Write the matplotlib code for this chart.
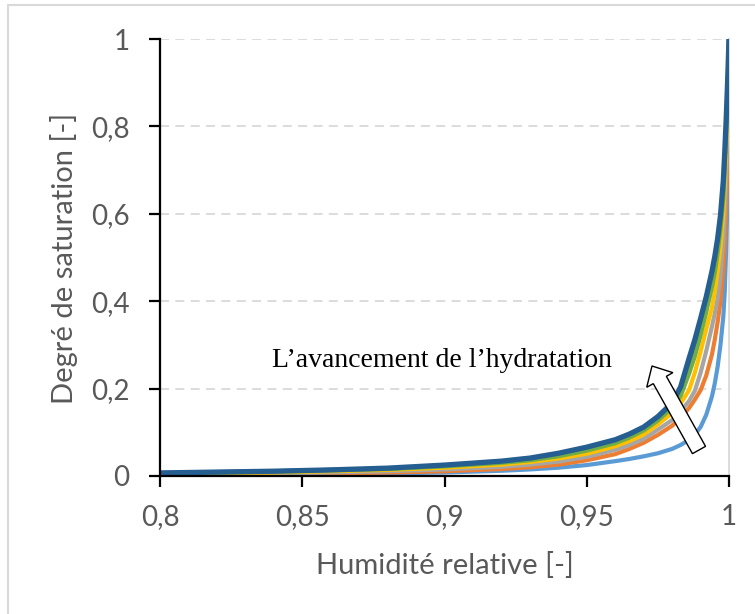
import matplotlib
matplotlib.use("Agg")
import matplotlib.pyplot as plt
from matplotlib.patches import FancyArrow, Rectangle
from matplotlib.transforms import Affine2D

# Humidité relative (abscisse commune)
hr = [0.80, 0.82, 0.84, 0.86, 0.88, 0.90, 0.92, 0.93, 0.94, 0.95, 0.96, 0.965, 0.97, 0.975,
      0.98, 0.983, 0.986, 0.988, 0.990, 0.992, 0.994, 0.995, 0.996, 0.997, 0.998, 0.9985,
      0.999, 0.9995, 1.0]

# Degré de saturation, du moins hydraté au plus hydraté
s_bleu_clair = [0.002, 0.002, 0.003, 0.004, 0.006, 0.008, 0.012, 0.015, 0.019, 0.025, 0.034,
                0.039, 0.045, 0.052, 0.062, 0.071, 0.083, 0.095, 0.112, 0.140, 0.182, 0.212,
                0.250, 0.300, 0.365, 0.420, 0.520, 0.650, 1.0]
s_orange = [0.003, 0.004, 0.005, 0.006, 0.008, 0.011, 0.016, 0.020, 0.026, 0.036, 0.050,
            0.062, 0.076, 0.094, 0.115, 0.133, 0.156, 0.175, 0.196, 0.230, 0.278, 0.312,
            0.352, 0.400, 0.470, 0.528, 0.610, 0.750, 1.0]
s_gris = [0.004, 0.005, 0.006, 0.008, 0.011, 0.015, 0.021, 0.026, 0.033, 0.044, 0.060,
          0.071, 0.085, 0.106, 0.128, 0.148, 0.172, 0.195, 0.236, 0.286, 0.342, 0.372,
          0.405, 0.458, 0.540, 0.600, 0.690, 0.820, 1.0]
s_jaune = [0.005, 0.006, 0.008, 0.011, 0.014, 0.019, 0.026, 0.032, 0.040, 0.051, 0.068,
           0.080, 0.095, 0.118, 0.144, 0.166, 0.197, 0.237, 0.284, 0.336, 0.385, 0.420,
           0.468, 0.525, 0.600, 0.665, 0.750, 0.850, 1.0]
s_bleu = [0.007, 0.009, 0.011, 0.014, 0.017, 0.024, 0.032, 0.038, 0.048, 0.062, 0.078,
          0.091, 0.107, 0.131, 0.161, 0.193, 0.252, 0.293, 0.341, 0.392, 0.450, 0.483,
          0.526, 0.580, 0.655, 0.725, 0.800, 0.890, 1.0]
s_vert = [0.006, 0.008, 0.010, 0.013, 0.016, 0.022, 0.030, 0.036, 0.045, 0.058, 0.075,
          0.088, 0.104, 0.127, 0.156, 0.183, 0.235, 0.274, 0.322, 0.375, 0.432, 0.465,
          0.510, 0.563, 0.635, 0.710, 0.790, 0.880, 1.0]
s_bleu_fonce = [0.007, 0.009, 0.011, 0.014, 0.018, 0.025, 0.034, 0.041, 0.052, 0.066, 0.083,
                0.096, 0.112, 0.136, 0.167, 0.204, 0.270, 0.312, 0.360, 0.410, 0.468, 0.502,
                0.543, 0.596, 0.675, 0.740, 0.815, 0.900, 1.0]

courbes = [s_bleu_clair, s_orange, s_gris, s_jaune, s_bleu, s_vert, s_bleu_fonce]
couleurs = ['#5B9BD5', '#ED7D31', '#A5A5A5', '#FFC000', '#4472C4', '#70AD47', '#255E91']
epaisseurs = [3.0, 3.0, 3.0, 3.0, 3.0, 3.0, 3.8]

x_ticks = [0.8, 0.85, 0.9, 0.95, 1.0]
x_labels = ['0,8', '0,85', '0,9', '0,95', '1']
y_ticks = [0, 0.2, 0.4, 0.6, 0.8, 1.0]
y_labels = ['0', '0,2', '0,4', '0,6', '0,8', '1']

W, H = 755, 614
gris_txt = '#595959'

fig = plt.figure(figsize=(W / 100, H / 100), dpi=100)
ax = fig.add_axes([160 / W, 1 - 476 / H, (729 - 160) / W, (476 - 39) / H])
pix = Affine2D().scale(1 / W, 1 / H) + fig.transFigure

for y in y_ticks[1:]:
    ax.axhline(y, color='#D9D9D9', lw=1.3, ls=(0, (5, 3.5)), zorder=1)

for s, c, lw in zip(courbes, couleurs, epaisseurs):
    ax.plot(hr, s, color=c, lw=lw, solid_capstyle='round', solid_joinstyle='round', zorder=3)

ax.set_xlim(0.8, 1.0)
ax.set_ylim(0, 1.0)
ax.set_xticks(x_ticks)
ax.set_xticklabels(x_labels)
ax.set_yticks(y_ticks)
ax.set_yticklabels(y_labels)

for sp in ['left', 'bottom']:
    ax.spines[sp].set_color('black')
    ax.spines[sp].set_linewidth(1.6)
    ax.spines[sp].set_zorder(4)
ax.spines['top'].set_visible(False)
ax.spines['right'].set_color('#D9D9D9')
ax.spines['right'].set_linewidth(1.3)

ax.tick_params(axis='x', direction='out', length=8, width=1.6, color='black',
               labelsize=20, labelcolor=gris_txt, pad=12)
ax.tick_params(axis='y', direction='out', length=8, width=1.6, color='black',
               labelsize=20, labelcolor=gris_txt, pad=14)
for lab in ax.get_xticklabels() + ax.get_yticklabels():
    lab.set_fontfamily('Lato')

# titres des axes placés en pixels
fig.text(445, H - 565, 'Humidité relative [-]', fontsize=21, color=gris_txt, family='Lato',
         ha='center', va='center', transform=pix)
fig.text(64, H - 258, 'Degré de saturation [-]', fontsize=21, color=gris_txt, family='Lato',
         ha='center', va='center', rotation=90, transform=pix)

ax.text(442, H - 367, 'L\u2019avancement de l\u2019hydratation', fontsize=20,
        family='Liberation Serif', color='black', ha='center', va='baseline',
        transform=pix, zorder=5)

fleche = FancyArrow(699, H - 450, 652 - 699, (H - 366) - (H - 450), width=15,
                    head_width=30, head_length=16, length_includes_head=True,
                    fc='white', ec='black', lw=1.0, transform=pix, zorder=6)
fig.add_artist(fleche)

cadre = Rectangle((8, -20), W + 20, H - 5 + 20, fill=False, ec='#D9D9D9', lw=1.5,
                  transform=pix)
fig.add_artist(cadre)

fig.savefig('out.png', dpi=100)
